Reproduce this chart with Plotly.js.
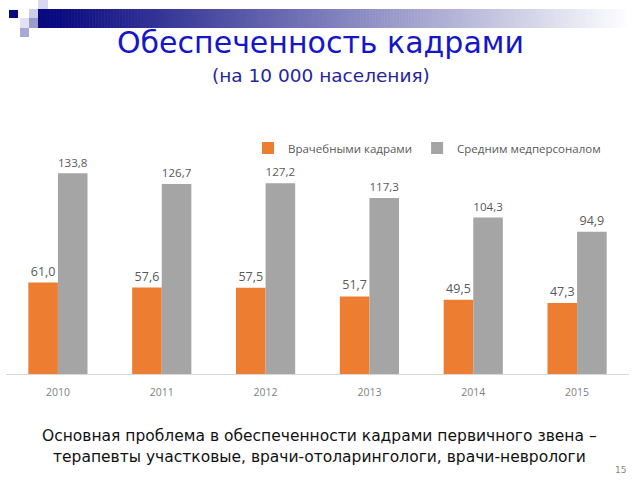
<!DOCTYPE html>
<html><head><meta charset="utf-8">
<script src="https://cdn.plot.ly/plotly-3.0.1.min.js"></script>
<style>body{margin:0;background:#fff}#chart{width:640px;height:480px}</style>
</head><body><div id="chart"></div>
<script>
const years = ['2010','2011','2012','2013','2014','2015'];
const doctors = [61.0, 57.6, 57.5, 51.7, 49.5, 47.3];
const nurses = [133.8, 126.7, 127.2, 117.3, 104.3, 94.9];
const seriesNames = ['Врачебными кадрами', 'Средним медперсоналом'];
const titleText = 'Обеспеченность кадрами';
const subtitleText = '(на 10 000 населения)';
const noteLines = ['Основная проблема в обеспеченности кадрами первичного звена –',
                   'терапевты участковые, врачи-отоларингологи, врачи-неврологи'];
const pageNum = '15';

const W = 640, H = 480;
const px = x => x / W, py = y => 1 - y / H;

const valueFont = {family: 'Open Sans, Liberation Sans, sans-serif', size: 12.5, color: '#595959'};
const legendFont = {family: 'Open Sans, Liberation Sans, sans-serif', size: 11.5, color: '#595959'};
const tickFont = {family: 'Open Sans, Liberation Sans, sans-serif', size: 10.5, color: '#7f7f7f'};

const traces = [
  {type: 'bar', x: years, y: doctors, name: seriesNames[0], marker: {color: '#ED7D31'},
   texttemplate: '%{y:.1f}', textposition: 'outside', textfont: valueFont, cliponaxis: false, hoverinfo: 'skip'},
  {type: 'bar', x: years, y: nurses, name: seriesNames[1], marker: {color: '#A5A5A5'},
   texttemplate: '%{y:.1f}', textposition: 'outside', textfont: valueFont, cliponaxis: false, hoverinfo: 'skip'}
];

// decorative banner (gradient navy -> white)
const shapes = [];
const bx0 = 38, bx1 = 640, steps = 200;
for (let i = 0; i < steps; i++) {
  const xa = bx0 + (bx1 - bx0) * i / steps, xb = bx0 + (bx1 - bx0) * (i + 1) / steps + 0.6;
  const xm = (xa + xb) / 2;
  const f = Math.min(1, Math.max(0, (xm - 60) / 570));
  const r = Math.round(10 + 245 * f), g = Math.round(10 + 245 * f), b = Math.round(128 + 127 * f);
  shapes.push({type: 'rect', xref: 'paper', yref: 'paper', x0: px(xa), x1: px(xb), y0: py(28), y1: py(9),
    fillcolor: `rgb(${r},${g},${b})`, line: {width: 0}, layer: 'below'});
}
const sq = [
  [9, 10, 18, 18, '#0a0a80'],
  [29, 9, 38, 18, '#cdcde8'],
  [29, 18, 38, 28, '#9c9ccc'],
  [38, 0, 48, 9, '#d8d8ee'],
  [20, 18, 29, 28, '#e2e2f2'],
  [20, 28, 29, 37, '#a8a8d4']
];
sq.forEach(s => shapes.push({type: 'rect', xref: 'paper', yref: 'paper', x0: px(s[0]), x1: px(s[2]),
  y0: py(s[3]), y1: py(s[1]), fillcolor: s[4], line: {width: 0}, layer: 'below'}));

const ann = (text, x, y, font) => ({text, xref: 'paper', yref: 'paper', x: px(x), y: py(y),
  xanchor: 'center', yanchor: 'middle', showarrow: false, font});
const annotations = [
  ann(titleText, 320, 42, {family: 'DejaVu Sans, sans-serif', size: 30, color: '#1515cc'}),
  ann(subtitleText, 321, 75, {family: 'DejaVu Sans, sans-serif', size: 18.5, color: '#26269a'}),
  ann(noteLines[0], 319, 436, {family: 'DejaVu Sans, sans-serif', size: 15.5, color: '#111'}),
  ann(noteLines[1], 319, 457, {family: 'DejaVu Sans, sans-serif', size: 15.5, color: '#111'}),
  ann(pageNum, 620, 470, {family: 'DejaVu Sans, sans-serif', size: 9, color: '#888'})
];

const layout = {
  width: W, height: H,
  margin: {l: 0, r: 0, t: 0, b: 0},
  paper_bgcolor: '#fff', plot_bgcolor: '#fff',
  separators: ', ',
  barmode: 'group', bargap: 0.43, bargroupgap: 0,
  showlegend: true,
  legend: {orientation: 'h', x: px(248), y: py(148), xanchor: 'left', yanchor: 'middle',
    font: legendFont, bgcolor: 'rgba(0,0,0,0)'},
  xaxis: {domain: [px(6), px(629)], type: 'category', showgrid: false, zeroline: false,
    showline: true, linecolor: '#d9d9d9', linewidth: 1, ticks: '', tickfont: tickFont, ticklabelstandoff: 8},
  yaxis: {domain: [py(374), py(164)], range: [0, 140], showgrid: false, zeroline: false,
    showticklabels: false, showline: false, ticks: ''},
  shapes: shapes,
  annotations: annotations
};

Plotly.newPlot('chart', traces, layout, {staticPlot: true});
</script></body></html>
